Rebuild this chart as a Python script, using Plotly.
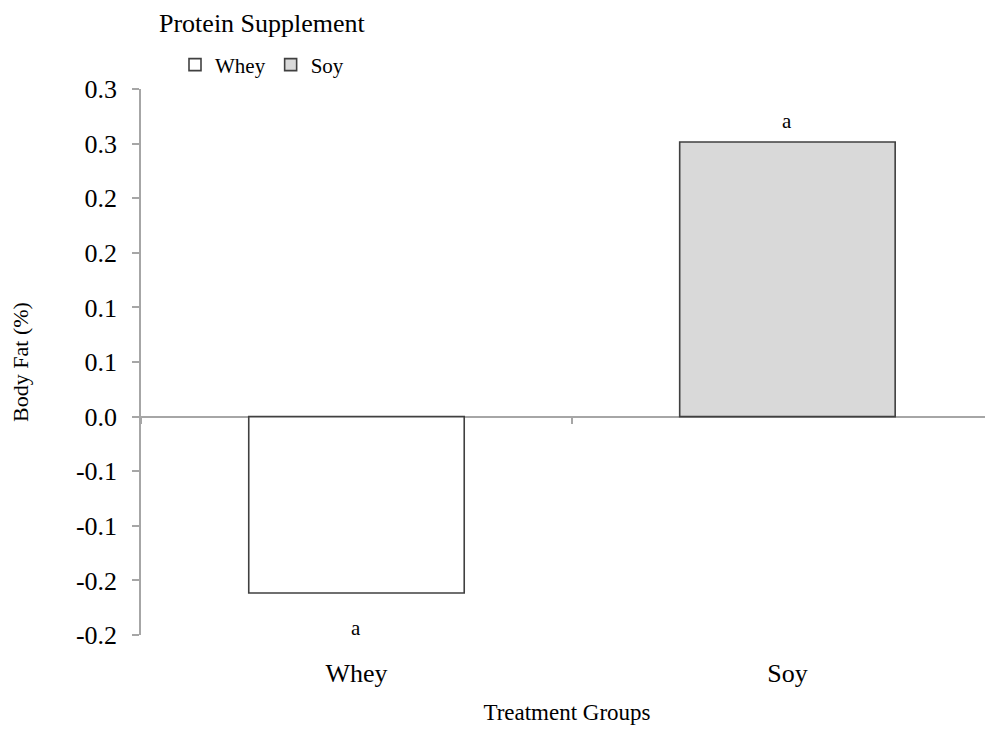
import plotly.graph_objects as go

categories = ["Whey", "Soy"]
body_fat = [-0.1615, 0.2514]
bar_colors = ["#FFFFFF", "#D9D9D9"]
sig_letters = ["a", "a"]
tick_values = [-0.2, -0.15, -0.1, -0.05, 0.0, 0.05, 0.1, 0.15, 0.2, 0.25, 0.3]
tick_labels = ["-0.2", "-0.2", "-0.1", "-0.1", "0.0", "0.1", "0.1", "0.2", "0.2", "0.3", "0.3"]

FONT = "Liberation Serif, Times New Roman, serif"
AXIS_GRAY = "#A6A6A6"
y_range = [-0.2, 0.3]
x_range = [-0.5, 1.477]

# the page body adds an 8px offset, so the figure is 8px smaller on each axis
W, H = 985, 724

fig = go.Figure()
for cat, val, col in zip(categories, body_fat, bar_colors):
    fig.add_trace(go.Bar(
        x=[cat], y=[val], name=cat, width=0.5,
        marker=dict(color=col, line=dict(color="#404040", width=1.6)),
        hoverinfo="x+y",
    ))

# invisible helper trace for the category axis drawn at y = 0
fig.add_trace(go.Scatter(x=categories, y=[0, 0], xaxis="x2", mode="none",
                         showlegend=False, hoverinfo="skip"))

for cat, val, letter in zip(categories, body_fat, sig_letters):
    fig.add_annotation(x=cat, y=val, text=letter, showarrow=False,
                       yanchor="middle",
                       yshift=21 if val >= 0 else -35,
                       font=dict(family=FONT, size=21, color="black"))

fig.add_annotation(xref="paper", yref="paper", x=0.0188, y=1.0, yshift=66,
                   xanchor="left", yanchor="middle", showarrow=False,
                   text="Protein Supplement",
                   font=dict(family=FONT, size=26, color="black"))

zero_pos = (0 - y_range[0]) / (y_range[1] - y_range[0])

fig.update_layout(
    width=W, height=H,
    margin=dict(l=133, r=0, t=81, b=97),
    paper_bgcolor="white", plot_bgcolor="white",
    font=dict(family=FONT, color="black"),
    barmode="overlay",
    showlegend=True,
    legend=dict(orientation="h", xref="container", yref="container",
                x=167 / W, y=1 - 57 / H, xanchor="left", yanchor="middle",
                font=dict(family=FONT, size=21, color="black"),
                itemwidth=30, traceorder="normal",
                bgcolor="rgba(0,0,0,0)"),
    xaxis=dict(type="category", categoryarray=categories, range=x_range,
               showline=False, showgrid=False, ticks="", zeroline=False,
               automargin=False,
               tickfont=dict(family=FONT, size=26, color="black"),
               ticklabelstandoff=20,
               title=dict(text="Treatment Groups", standoff=16,
                          font=dict(family=FONT, size=23, color="black"))),
    xaxis2=dict(type="category", categoryarray=categories, range=x_range,
                overlaying="x", anchor="free", position=zero_pos, side="bottom",
                showline=True, linecolor=AXIS_GRAY, linewidth=1.5,
                ticks="outside", ticklen=7, tickcolor=AXIS_GRAY, tickwidth=1.5,
                tickson="boundaries", showticklabels=False, showgrid=False,
                zeroline=False, layer="below traces", automargin=False),
    yaxis=dict(range=y_range, tickvals=tick_values, ticktext=tick_labels,
               showline=True, linecolor=AXIS_GRAY, linewidth=1.5,
               ticks="outside", ticklen=7, tickcolor=AXIS_GRAY, tickwidth=1.5,
               showgrid=False, zeroline=False, ticklabelstandoff=10,
               automargin=False,
               tickfont=dict(family=FONT, size=26, color="black"),
               title=dict(text="Body Fat (%)", standoff=45,
                          font=dict(family=FONT, size=22, color="black"))),
)

fig.write_html("out.html")
